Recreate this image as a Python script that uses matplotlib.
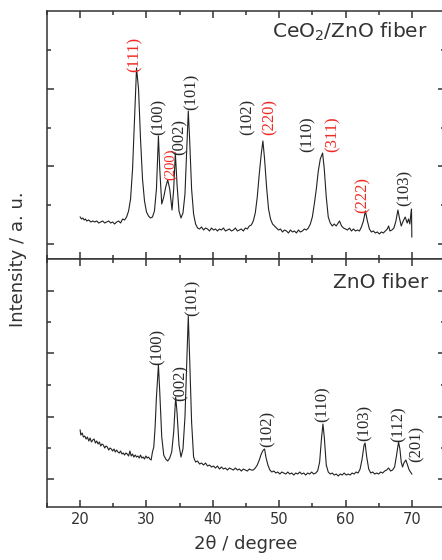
import numpy as np
import matplotlib

matplotlib.use('Agg')
import matplotlib.pyplot as plt
from matplotlib.ticker import MultipleLocator, FixedLocator

# CeO2/ZnO fiber pattern (2theta, intensity a.u.)
top_2theta = [
    20.0, 20.2, 20.4, 20.6, 20.8, 21.0, 21.3, 21.6, 21.9, 22.2, 22.5, 22.8, 23.1, 23.4,
    23.7, 24.0, 24.3, 24.6, 24.9, 25.2, 25.5, 25.8, 26.1, 26.4, 26.7, 27.0, 27.3, 27.6,
    27.9, 28.2, 28.5, 28.8, 29.1, 29.4, 29.7, 30.0, 30.3, 30.6, 30.9, 31.2, 31.5, 31.8,
    32.0, 32.3, 32.6, 32.9, 33.2, 33.5, 33.85, 34.1, 34.35, 34.6, 34.9, 35.2, 35.5, 35.8,
    36.1, 36.3, 36.5, 36.8, 37.1, 37.4, 37.7, 38.0, 38.3, 38.6, 38.9, 39.2, 39.5, 39.8,
    40.1, 40.4, 40.7, 41.0, 41.3, 41.6, 41.9, 42.2, 42.5, 42.8, 43.1, 43.4, 43.7, 44.0,
    44.3, 44.6, 44.9, 45.2, 45.5, 45.8, 46.1, 46.4, 46.7, 47.0, 47.3, 47.55, 47.8, 48.1,
    48.4, 48.7, 49.0, 49.3, 49.6, 49.9, 50.2, 50.5, 50.8, 51.1, 51.4, 51.7, 52.0, 52.3,
    52.6, 52.9, 53.2, 53.5, 53.8, 54.1, 54.4, 54.7, 55.0, 55.3, 55.6, 55.9, 56.2, 56.55,
    56.8, 57.1, 57.4, 57.7, 58.0, 58.3, 58.6, 58.9, 59.1, 59.4, 59.7, 60.0, 60.3, 60.6,
    60.9, 61.2, 61.5, 61.8, 62.1, 62.4, 62.7, 63.0, 63.3, 63.6, 63.9, 64.2, 64.5, 64.8,
    65.1, 65.4, 65.7, 66.0, 66.3, 66.5, 66.7, 67.0, 67.3, 67.6, 67.9, 68.1, 68.4, 68.7,
    69.0, 69.3, 69.5, 69.7, 69.85, 69.95, 70.0,
]
top_int = [
    42, 40, 41, 39, 40, 38, 39, 37, 38, 37, 38, 36, 37, 38,
    36, 37, 38, 36, 37, 35, 37, 38, 36, 40, 39, 42, 48, 60,
    90, 140, 191, 170, 120, 80, 58, 47, 43, 41, 42, 48, 70, 123,
    90, 55, 62, 72, 79, 70, 49, 70, 106, 75, 48, 41, 46, 65,
    115, 148, 120, 70, 45, 35, 31, 30, 32, 29, 31, 30, 28, 31,
    29, 30, 28, 30, 29, 31, 28, 29, 30, 28, 29, 31, 28, 29,
    30, 28, 31, 30, 33, 34, 38, 46, 62, 85, 105, 118, 100, 72,
    50, 40, 35, 33, 31, 29, 30, 27, 29, 28, 26, 29, 27, 28,
    26, 29, 27, 28, 30, 29, 31, 35, 42, 55, 70, 88, 100, 106,
    90, 62, 42, 36, 33, 35, 33, 36, 38, 33, 31, 30, 29, 31,
    28, 30, 28, 29, 28, 32, 38, 48, 38, 30, 27, 28, 26, 27,
    25, 27, 26, 28, 30, 33, 28, 29, 31, 38, 49, 42, 33, 38,
    42, 36, 40, 35, 45, 50, 22,
]

# ZnO fiber pattern
bot_2theta = [
    20.0, 20.1, 20.3, 20.5, 20.7, 20.9, 21.1, 21.3, 21.5, 21.7, 21.9, 22.1, 22.3, 22.5,
    22.7, 22.9, 23.1, 23.3, 23.5, 23.7, 23.9, 24.1, 24.3, 24.5, 24.7, 24.9, 25.1, 25.3,
    25.5, 25.7, 25.9, 26.1, 26.3, 26.5, 26.7, 26.9, 27.1, 27.3, 27.5, 27.7, 27.9, 28.1,
    28.3, 28.5, 28.7, 28.9, 29.1, 29.3, 29.5, 29.7, 29.9, 30.1, 30.3, 30.5, 30.7, 30.9,
    31.1, 31.3, 31.5, 31.8, 32.0, 32.3, 32.6, 32.9, 33.2, 33.5, 33.8, 34.1, 34.4, 34.6,
    34.9, 35.2, 35.5, 35.8, 36.1, 36.3, 36.5, 36.8, 37.1, 37.4, 37.7, 38.0, 38.3, 38.6,
    38.9, 39.2, 39.5, 39.8, 40.1, 40.4, 40.7, 41.0, 41.3, 41.6, 41.9, 42.2, 42.5, 42.8,
    43.1, 43.4, 43.7, 44.0, 44.3, 44.6, 44.9, 45.2, 45.5, 45.8, 46.1, 46.4, 46.7, 47.0,
    47.3, 47.6, 47.8, 48.0, 48.3, 48.6, 48.9, 49.2, 49.5, 49.8, 50.1, 50.4, 50.7, 51.0,
    51.3, 51.6, 51.9, 52.2, 52.5, 52.8, 53.1, 53.4, 53.7, 54.0, 54.3, 54.6, 54.9, 55.2,
    55.5, 55.8, 56.1, 56.4, 56.6, 56.8, 57.1, 57.4, 57.7, 58.0, 58.3, 58.6, 58.9, 59.2,
    59.5, 59.8, 60.1, 60.4, 60.7, 61.0, 61.3, 61.6, 61.9, 62.2, 62.5, 62.8, 62.95, 63.2,
    63.5, 63.8, 64.1, 64.4, 64.7, 65.0, 65.3, 65.6, 65.9, 66.2, 66.5, 66.8, 67.1, 67.4,
    67.7, 68.0, 68.2, 68.4, 68.6, 68.8, 69.1, 69.3, 69.6, 69.8, 70.0,
]
bot_int = [
    77, 72, 74, 70, 71, 68, 70, 66, 69, 65, 67, 68, 64, 66,
    63, 65, 61, 63, 62, 59, 61, 60, 57, 59, 58, 56, 58, 55,
    57, 55, 54, 56, 53, 54, 52, 54, 53, 51, 56, 51, 53, 50,
    52, 50, 51, 49, 52, 49, 50, 48, 51, 49, 50, 48, 47, 55,
    60, 80, 110, 142, 115, 70, 52, 48, 46, 49, 55, 75, 110, 95,
    62, 50, 58, 90, 150, 191, 150, 85, 50, 45, 46, 43, 44, 42,
    44, 41, 42, 40, 41, 39, 41, 38, 40, 38, 39, 37, 39, 38,
    37, 39, 37, 38, 36, 38, 37, 36, 38, 37, 37, 39, 42, 47,
    53, 57, 58, 50, 42, 37, 35, 36, 34, 35, 33, 35, 34, 33,
    35, 33, 34, 32, 34, 33, 35, 33, 34, 32, 34, 33, 35, 33,
    34, 36, 45, 70, 83, 70, 42, 35, 33, 34, 32, 33, 31, 33,
    32, 34, 32, 33, 32, 34, 33, 35, 34, 38, 48, 62, 64, 50,
    38, 34, 35, 33, 34, 33, 35, 34, 36, 37, 39, 36, 37, 40,
    52, 65, 58, 45, 40, 44, 47, 43, 37, 35, 33,
]

# peak labels: (text, 2theta, bottom of label, colour key, size)
top_labels = [
    ("(111)", 28.2, 187, 'r', 12), ("(100)", 31.8, 124, 'k', 12),
    ("(200)", 33.6, 79, 'r', 10.5), ("(002)", 35.05, 104, 'k', 12),
    ("(101)", 36.8, 149, 'k', 12), ("(102)", 45.2, 124, 'k', 12),
    ("(220)", 48.55, 124, 'r', 12), ("(110)", 54.3, 107, 'k', 12),
    ("(311)", 58.05, 107, 'r', 12), ("(222)", 62.6, 46, 'r', 12),
    ("(103)", 68.95, 53, 'k', 12),
]
bot_labels = [
    ("(100)", 31.7, 142, 'k', 12), ("(002)", 35.1, 106, 'k', 12),
    ("(101)", 37.0, 191, 'k', 12), ("(102)", 48.3, 60, 'k', 12),
    ("(110)", 56.6, 85, 'k', 12), ("(103)", 62.9, 66, 'k', 12),
    ("(112)", 68.0, 65, 'k', 12), ("(201)", 70.7, 45, 'k', 12),
]

colors = {'r': '#ee2a24', 'k': '#2a2a2a'}
grey = '#333333'

plt.rcParams['font.family'] = ['DejaVu Sans']

fig = plt.figure(figsize=(4.42, 5.60), dpi=100)
ax_top = fig.add_axes([0.1063, 0.5375, 0.9005, 0.4429])
ax_bot = fig.add_axes([0.1063, 0.0946, 0.9005, 0.4429])

panels = [
    (ax_top, top_2theta, top_int, top_labels, "CeO$_2$/ZnO fiber", 0.915,
     [15, 93, 170], [54, 131, 209]),
    (ax_bot, bot_2theta, bot_int, bot_labels, "ZnO fiber", 0.907,
     [28, 90, 154, 216], [59, 122, 185]),
]

for ax, xs, ys, labels, name, ty, ymaj, ymin in panels:
    ax.plot(xs, ys, color='#222222', lw=0.8)
    ax.set_xlim(15, 75)
    ax.set_ylim(0, 248)
    ax.xaxis.set_major_locator(MultipleLocator(10))
    ax.xaxis.set_minor_locator(MultipleLocator(5))
    ax.yaxis.set_major_locator(FixedLocator(ymaj))
    ax.yaxis.set_minor_locator(FixedLocator(ymin))
    ax.tick_params(which='both', direction='in', top=True, right=True,
                   width=1.1, colors=grey, labelsize=10.5)
    ax.tick_params(which='major', length=5)
    ax.tick_params(which='minor', length=3)
    ax.set_yticklabels([])
    for s in ax.spines.values():
        s.set_linewidth(1.1)
        s.set_color(grey)
    ax.text(0.957, ty, name, transform=ax.transAxes, ha='right', va='center',
            fontsize=14.5, color=grey)
    for txt, x, y, c, fs in labels:
        ax.text(x, y, txt, rotation=90, ha='center', va='bottom',
                fontsize=fs, color=colors[c], family='Liberation Serif')

ax_top.set_xticklabels([])
ax_bot.set_xlabel("2θ / degree", fontsize=13, color=grey, labelpad=6)
fig.text(0.04, 0.5375, "Intensity / a. u.", rotation=90, ha='center', va='center',
         fontsize=13, color=grey)

fig.savefig('out.png', dpi=100)
